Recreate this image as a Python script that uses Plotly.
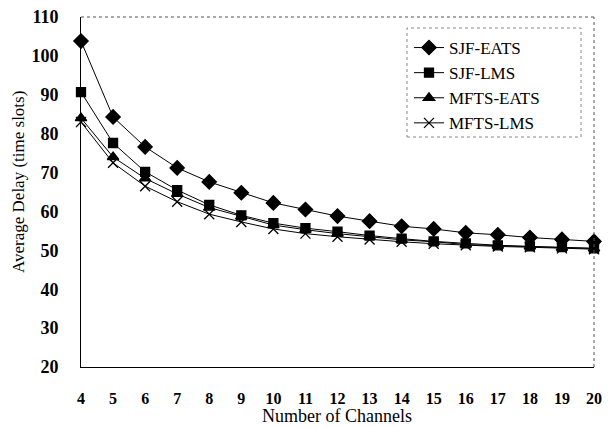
import plotly.graph_objects as go

channels = list(range(4, 21))
sjf_eats = [103.8, 84.3, 76.6, 71.2, 67.6, 64.8, 62.2, 60.5, 58.8, 57.5, 56.2, 55.5, 54.5, 54.0, 53.3, 52.8, 52.3]
sjf_lms = [90.7, 77.6, 70.2, 65.5, 61.7, 59.0, 57.0, 55.7, 54.8, 53.8, 53.0, 52.3, 51.8, 51.3, 51.0, 50.8, 50.5]
mfts_eats = [84.0, 74.0, 68.5, 64.5, 61.0, 58.7, 56.5, 55.3, 54.3, 53.5, 52.7, 52.2, 51.5, 51.2, 51.0, 50.7, 50.5]
mfts_lms = [83.0, 72.5, 66.5, 62.5, 59.3, 57.3, 55.5, 54.3, 53.5, 52.8, 52.2, 51.7, 51.3, 51.0, 50.8, 50.5, 50.3]
y_ticks = [20, 30, 40, 50, 60, 70, 80, 90, 100, 110]

series = [
    ("SJF-EATS", sjf_eats, "diamond", 11),
    ("SJF-LMS", sjf_lms, "square", 9),
    ("MFTS-EATS", mfts_eats, "triangle-up", 10),
    ("MFTS-LMS", mfts_lms, "x-thin", 10),
]

fig = go.Figure()
for name, vals, sym, sz in series:
    fig.add_trace(go.Scatter(
        x=channels, y=vals, name=name, mode="lines+markers",
        line=dict(color="black", width=1),
        marker=dict(symbol=sym, size=sz, color="black",
                    line=dict(color="black", width=1.3)),
        cliponaxis=False,
    ))

font_family = "Liberation Serif"
W, H = 608, 427
L, R, T, B = 81, 14, 17, 60
pw, ph = W - L - R, H - T - B

def px_x(v):
    return (v - L) / pw

def px_y(v):
    return (T + ph - v) / ph

fig.update_layout(
    width=W, height=H,
    margin=dict(l=L, r=R, t=T, b=B),
    paper_bgcolor="white", plot_bgcolor="white",
    font=dict(family=font_family, color="black"),
    showlegend=True,
    legend=dict(
        x=px_x(409), y=px_y(30), xanchor="left", yanchor="top",
        bgcolor="rgba(0,0,0,0)", borderwidth=0,
        font=dict(size=17, family=font_family),
        tracegroupgap=0, itemwidth=30,
    ),
    xaxis=dict(
        range=[4, 20], tickmode="array", tickvals=channels,
        ticktext=[f"<b>{c}</b>" for c in channels],
        tickfont=dict(size=16, family=font_family), ticks="", ticklabelstandoff=17,
        showgrid=False, zeroline=False, automargin=False,
        showline=True, linecolor="black", linewidth=1,
    ),
    yaxis=dict(
        range=[20, 110], tickmode="array", tickvals=y_ticks,
        ticktext=[f"<b>{v}</b>" for v in y_ticks],
        tickfont=dict(size=18, family=font_family), ticks="", ticklabelstandoff=18,
        showgrid=False, zeroline=False, automargin=False,
        showline=True, linecolor="black", linewidth=1,
    ),
)
fig.add_shape(type="rect", xref="paper", yref="paper",
              x0=px_x(407), x1=px_x(581), y0=px_y(137), y1=px_y(28),
              fillcolor="white", layer="below",
              line=dict(color="#888", width=1, dash="dot"))
fig.add_annotation(text="Number of Channels", xref="paper", yref="paper",
                   x=px_x(337), y=px_y(416),
                   xanchor="center", yanchor="middle", showarrow=False,
                   font=dict(size=18, family=font_family))
fig.add_annotation(text="Average Delay (time slots)", xref="paper", yref="paper",
                   x=px_x(18), y=px_y(182), textangle=-90,
                   xanchor="center", yanchor="middle", showarrow=False,
                   font=dict(size=17, family=font_family))
fig.add_shape(type="line", xref="paper", yref="paper", x0=0, x1=1, y0=1, y1=1,
              line=dict(color="#555", width=1, dash="dot"))
fig.add_shape(type="line", xref="paper", yref="paper", x0=1, x1=1, y0=0, y1=1,
              line=dict(color="#555", width=1, dash="dot"))

fig.write_html("out.html")
